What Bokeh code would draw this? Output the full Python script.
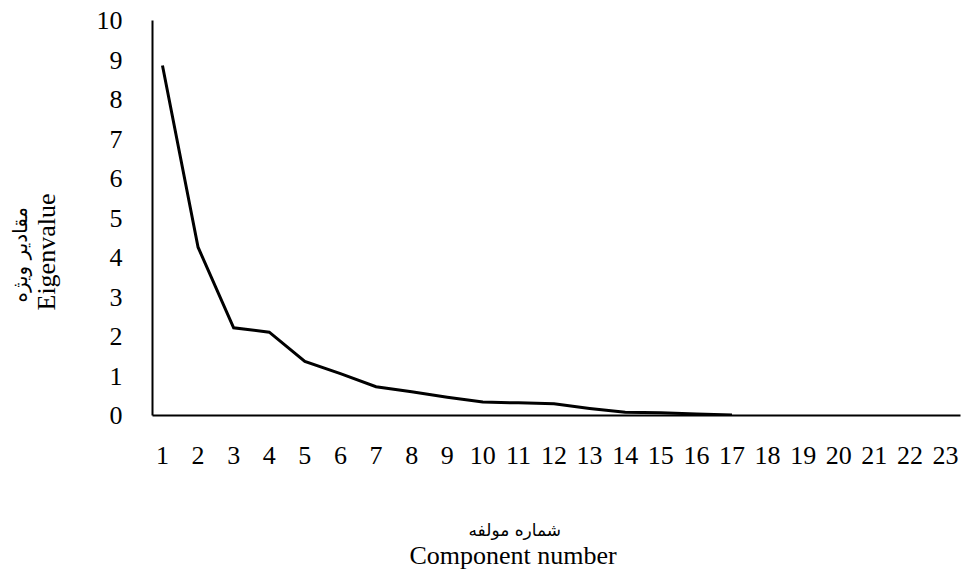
from bokeh.plotting import figure
from bokeh.models import FixedTicker, Range1d, Title
from bokeh.embed import file_html
from bokeh.resources import INLINE

# Data
components = list(range(1, 18))
eigenvalues = [8.86, 4.26, 2.22, 2.11, 1.37, 1.06, 0.73, 0.60, 0.46, 0.34,
               0.32, 0.30, 0.18, 0.08, 0.07, 0.04, 0.01]
x_ticks = list(range(1, 24))
y_ticks = list(range(0, 11))

x_title_en = "Component number"
x_title_fa = "شماره مولفه"
y_title_en = "Eigenvalue"
y_title_fa = "مقادیر ویژه"

SERIF = "Liberation Serif"
ARABIC = "DejaVu Sans"

p = figure(width=968, height=572, output_backend="svg", toolbar_location=None,
           x_range=Range1d(0.72, 23.42), y_range=Range1d(0, 10),
           min_border_left=152, min_border_right=8, min_border_top=20,
           min_border_bottom=157)

p.line(components, eigenvalues, line_color="black", line_width=3,
       line_join="miter")

p.grid.visible = False
p.outline_line_color = None
p.background_fill_color = "white"
p.border_fill_color = "white"

for ax in (p.xaxis[0], p.yaxis[0]):
    ax.axis_line_color = "black"
    ax.axis_line_width = 2
    ax.major_tick_line_color = None
    ax.minor_tick_line_color = None
    ax.major_tick_out = 0
    ax.major_tick_in = 0
    ax.major_label_text_font = SERIF
    ax.major_label_text_font_size = "26px"
    ax.major_label_text_color = "black"

p.xaxis[0].ticker = FixedTicker(ticks=x_ticks)
p.yaxis[0].ticker = FixedTicker(ticks=y_ticks)
p.xaxis[0].major_label_standoff = 31
p.yaxis[0].major_label_standoff = 30

def title(text, font, size, place, offset, standoff, valign="bottom"):
    p.add_layout(Title(text=text, text_font=font, text_font_size=size,
                       text_font_style="normal", text_color="black",
                       align="left", offset=offset, standoff=standoff,
                       vertical_align=valign), place)

# spacing between the tick labels and the axis titles
title(" ", SERIF, "1px", "left", 0, 30)
title(" ", SERIF, "1px", "below", 0, 37)

# axis titles (two lines each: Persian + English)
title(y_title_en, SERIF, "26px", "left", 105, 0)
title(y_title_fa, ARABIC, "20px", "left", 113, -4)
title(x_title_fa, ARABIC, "17px", "below", 316, 23)
title(x_title_en, SERIF, "26px", "below", 257, -22, "top")

open("out.html", "w").write(file_html(p, INLINE))
